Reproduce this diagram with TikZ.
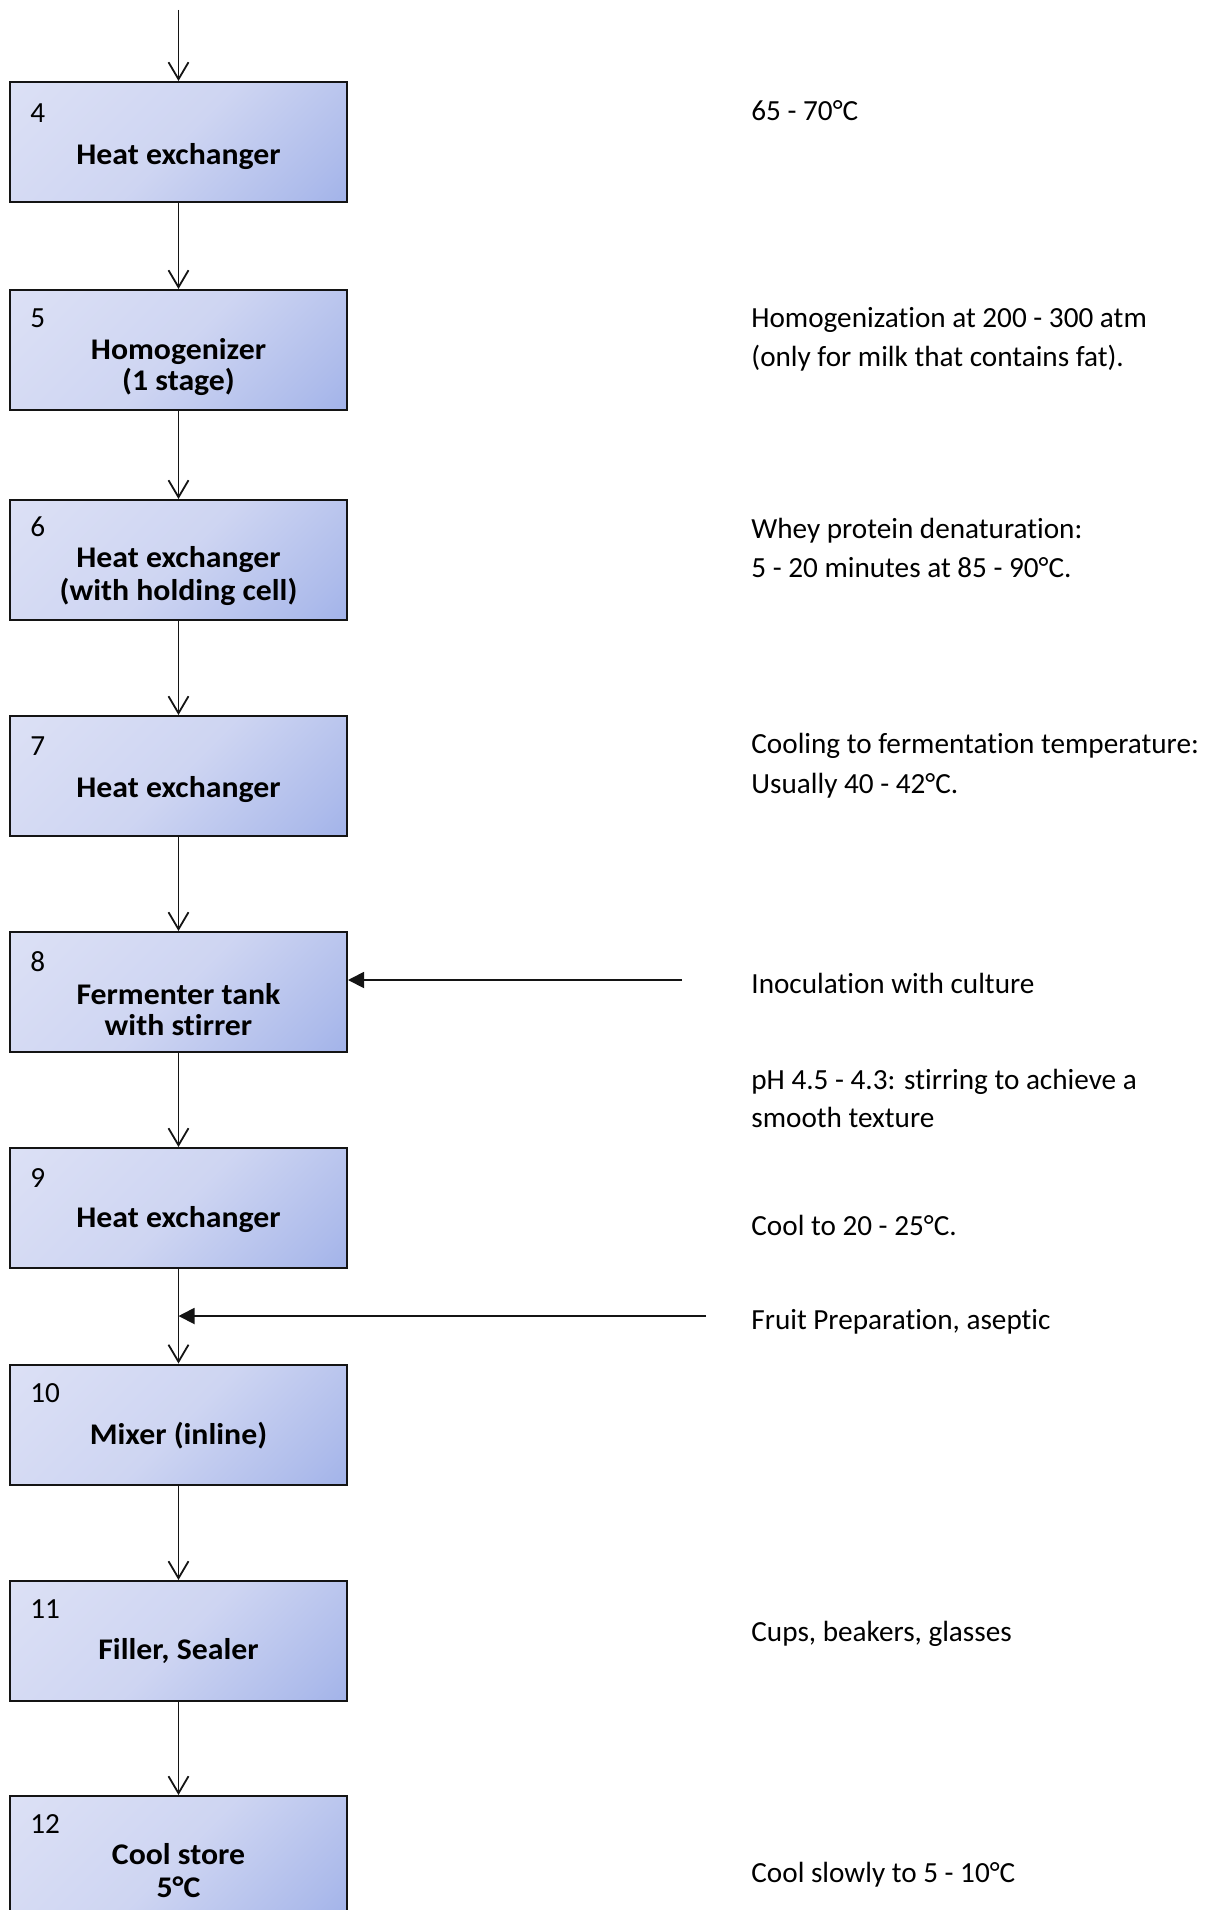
\documentclass[tikz,border=0pt]{standalone}
\usepackage{fontspec}
\setmainfont{Carlito}[Ligatures={NoCommon}, BoldFeatures={FakeStretch=1.06}]
\usetikzlibrary{arrows.meta}
\definecolor{boxA}{RGB}{225,229,247}
\definecolor{boxL}{RGB}{216,221,244}
\definecolor{boxM}{RGB}{206,213,242}
\definecolor{boxD}{RGB}{174,188,235}
\definecolor{boxB}{RGB}{148,168,232}
\definecolor{lineC}{RGB}{20,20,20}
\pgfdeclareverticalshading[boxA,boxL,boxM,boxD,boxB]{boxshade}{100bp}{color(0bp)=(boxB); color(4bp)=(boxB); color(23bp)=(boxD); color(50bp)=(boxM); color(75bp)=(boxL); color(100bp)=(boxA)}
\begin{document}
\begin{tikzpicture}[x=0.5pt,y=-0.5pt,
  procbox/.style={draw=lineC, line width=1pt, minimum width=168.5pt, minimum height=60pt,
    inner sep=0pt, shading=boxshade, shading angle=45},
  numtxt/.style={anchor=base west, inner sep=0pt, font=\fontsize{14.6pt}{16pt}\selectfont},
  ttl/.style={anchor=base, inner sep=0pt, font=\fontsize{15pt}{16pt}\selectfont\bfseries},
  note/.style={anchor=base west, inner sep=0pt, font=\fontsize{14.6pt}{16pt}\selectfont},
  flow/.style={draw=lineC, line width=0.9pt, -{Straight Barb[length=8.5pt,width=10pt,line width=0.9pt]}},
  feed/.style={draw=lineC, line width=0.9pt, -{Triangle[length=8pt,width=8pt]}}]
\useasboundingbox (0,0) rectangle (1214,1910);

% boxes
\node[procbox] (b4) at (178.5,142) {};
\node[procbox] (b5) at (178.5,350) {};
\node[procbox] (b6) at (178.5,560) {};
\node[procbox] (b7) at (178.5,776) {};
\node[procbox] (b8) at (178.5,992) {};
\node[procbox] (b9) at (178.5,1208) {};
\node[procbox] (b10) at (178.5,1424.5) {};
\node[procbox] (b11) at (178.5,1641) {};
\node[procbox] (b12) at (178.5,1856) {};

% numbers
\node[numtxt] (n4) at (30,123) {4};
\node[numtxt] (n5) at (30,327) {5};
\node[numtxt] (n6) at (30,536) {6};
\node[numtxt] (n7) at (30,755) {7};
\node[numtxt] (n8) at (30,971) {8};
\node[numtxt] (n9) at (30,1187) {9};
\node[numtxt] (n10) at (30,1402) {10};
\node[numtxt] (n11) at (30,1618) {11};
\node[numtxt] (n12) at (30,1833) {12};

% titles
\node[ttl] (t4) at (178.5,165) {Heat exchanger};
\node[ttl] (t5a) at (178.5,359) {Homogenizer};
\node[ttl] (t5b) at (178.5,390) {(1 stage)};
\node[ttl] (t6a) at (178.5,567) {Heat exchanger};
\node[ttl] (t6b) at (178.5,600) {(with holding cell)};
\node[ttl] (t7) at (178.5,797) {Heat exchanger};
\node[ttl] (t8a) at (178.5,1004) {Fermenter tank};
\node[ttl] (t8b) at (178.5,1035.5) {with stirrer};
\node[ttl] (t9) at (178.5,1227.5) {Heat exchanger};
\node[ttl] (t10) at (178.5,1444) {Mixer (inline)};
\node[ttl] (t11) at (178.5,1659) {Filler, Sealer};
\node[ttl] (t12a) at (178.5,1864) {Cool store};
\node[ttl] (t12b) at (178.5,1897) {5°C};

% notes
\node[note] (r4) at (751,121) {65 - 70°C};
\node[note] (r5a) at (751,327.7) {Homogenization at 200 - 300 atm};
\node[note] (r5b) at (751,366.7) {(only for milk that contains fat).};
\node[note] (r6a) at (751,538.3) {Whey protein denaturation:};
\node[note] (r6b) at (751,577.3) {5 - 20 minutes at 85 - 90°C.};
\node[note] (r7a) at (751,753.3) {Cooling to fermentation temperature:};
\node[note] (r7b) at (751,793.3) {Usually 40 - 42°C.};
\node[note] (r8) at (751,993.3) {Inoculation with culture};
\node[note] (r8ba) at (751,1089.3) {pH 4.5 - 4.3: stirring to achieve a};
\node[note] (r8bb) at (751,1127.7) {smooth texture};
\node[note] (r9) at (751,1235) {Cool to 20 - 25°C.};
\node[note] (r9b) at (751,1329.5) {Fruit Preparation, aseptic};
\node[note] (r11) at (751,1641) {Cups, beakers, glasses};
\node[note] (r12) at (751,1882.5) {Cool slowly to 5 - 10°C};

% connectors
\coordinate (start) at (178.5,10);
\draw[flow] (start) -- (b4.north);
\draw[flow] (b4.south) -- (b5.north);
\draw[flow] (b5.south) -- (b6.north);
\draw[flow] (b6.south) -- (b7.north);
\draw[flow] (b7.south) -- (b8.north);
\draw[flow] (b8.south) -- (b9.north);
\draw[flow] (b9.south) -- (b10.north);
\draw[flow] (b10.south) -- (b11.north);
\draw[flow] (b11.south) -- (b12.north);

\coordinate (inoc) at (682,980);
\draw[feed] (inoc) -- (inoc -| b8.east);
\coordinate (fruit) at (706,1316);
\draw[feed] (fruit) -- (fruit -| b9.south);
\end{tikzpicture}
\end{document}
